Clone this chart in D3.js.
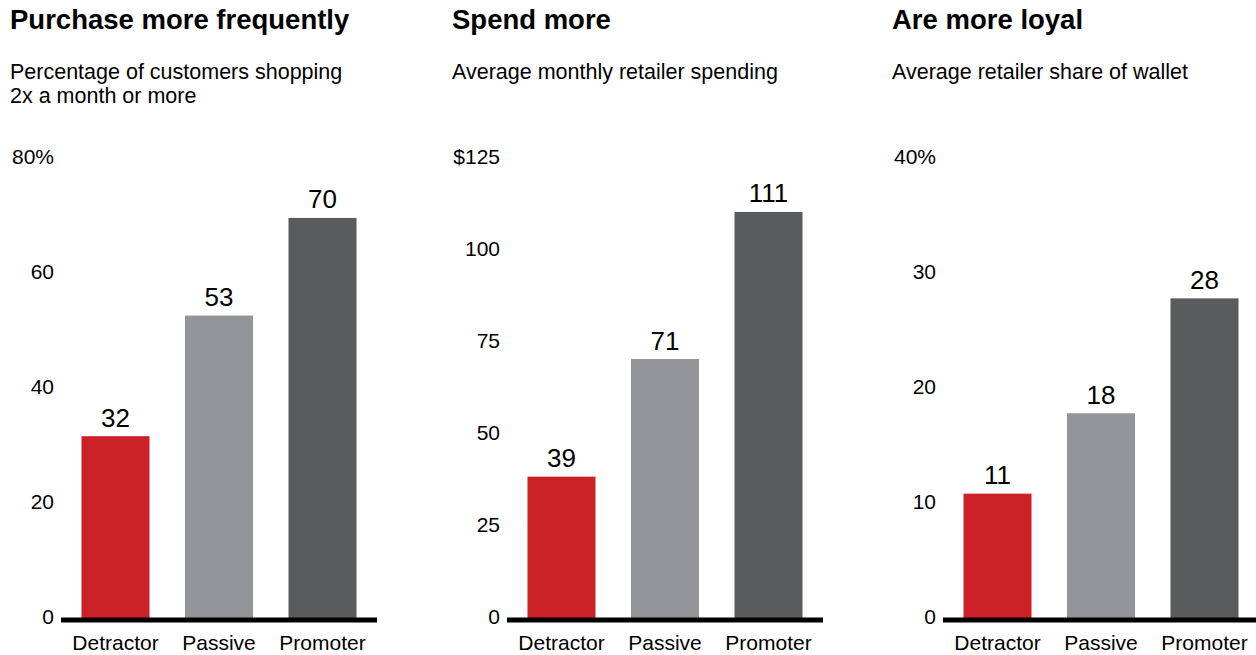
<!DOCTYPE html>
<html>
<head>
<meta charset="utf-8">
<script src="https://cdn.jsdelivr.net/npm/d3@7"></script>
<style>
  html, body { margin: 0; padding: 0; background: #fff; }
  svg { display: block; font-family: "Liberation Sans", Arial, Helvetica, sans-serif; }
</style>
</head>
<body>
<svg id="chart" width="1256" height="655"></svg>
<script>
// Customer segments shown in every panel
const categories = ["Detractor", "Passive", "Promoter"];
const segmentColors = ["#cd2128", "#939598", "#5a5b5d"];

// Panel 1: purchase frequency
const frequencyTitle = "Purchase more frequently";
const frequencySubtitle = ["Percentage of customers shopping", "2x a month or more"];
const frequencyValues = [32, 53, 70];
const frequencyTicks = [0, 20, 40, 60, 80];
const frequencyTickLabels = ["0", "20", "40", "60", "80%"];

// Panel 2: monthly spending
const spendingTitle = "Spend more";
const spendingSubtitle = ["Average monthly retailer spending"];
const spendingValues = [39, 71, 111];
const spendingTicks = [0, 25, 50, 75, 100, 125];
const spendingTickLabels = ["0", "25", "50", "75", "100", "$125"];

// Panel 3: share of wallet
const walletTitle = "Are more loyal";
const walletSubtitle = ["Average retailer share of wallet"];
const walletValues = [11, 18, 28];
const walletTicks = [0, 10, 20, 30, 40];
const walletTickLabels = ["0", "10", "20", "30", "40%"];

const panels = [
  { title: frequencyTitle, subtitle: frequencySubtitle, values: frequencyValues,
    ticks: frequencyTicks, tickLabels: frequencyTickLabels, left: 10, axisStart: 61 },
  { title: spendingTitle, subtitle: spendingSubtitle, values: spendingValues,
    ticks: spendingTicks, tickLabels: spendingTickLabels, left: 452, axisStart: 507 },
  { title: walletTitle, subtitle: walletSubtitle, values: walletValues,
    ticks: walletTicks, tickLabels: walletTickLabels, left: 892, axisStart: 943 }
];

const svg = d3.select("#chart");
const baseY = 620, topY = 160.5, axisLength = 316;

panels.forEach(p => {
  const g = svg.append("g");

  const x = d3.scaleBand()
    .domain(categories)
    .range([p.axisStart, p.axisStart + axisLength])
    .paddingInner(0.343)
    .paddingOuter(0.198);

  const y = d3.scaleLinear()
    .domain([0, d3.max(p.ticks)])
    .range([baseY, topY]);

  // Title and subtitle
  g.append("text")
    .attr("x", p.left).attr("y", 29)
    .attr("font-size", 27.5).attr("font-weight", "bold").attr("fill", "#000")
    .text(p.title);

  g.selectAll("text.sub").data(p.subtitle).join("text")
    .attr("class", "sub")
    .attr("x", p.left).attr("y", (d, i) => 79 + i * 24)
    .attr("font-size", 21.5).attr("fill", "#000")
    .text(d => d);

  // Value axis: labels only
  const axis = d3.axisLeft(y)
    .tickValues(p.ticks)
    .tickSize(0)
    .tickPadding(0)
    .tickFormat((d, i) => p.tickLabels[i]);

  const axisG = g.append("g")
    .attr("transform", `translate(${p.axisStart - 7},0)`)
    .call(axis);
  axisG.select(".domain").remove();
  axisG.selectAll("text")
    .attr("font-family", "inherit")
    .attr("font-size", 21)
    .attr("fill", "#000")
    .attr("dy", "0.15em");

  // Bars
  g.selectAll("rect.bar").data(p.values).join("rect")
    .attr("class", "bar")
    .attr("x", (d, i) => x(categories[i]))
    .attr("width", x.bandwidth())
    .attr("y", d => y(d))
    .attr("height", d => y(0) - y(d))
    .attr("fill", (d, i) => segmentColors[i]);

  // Value labels above bars
  g.selectAll("text.val").data(p.values).join("text")
    .attr("class", "val")
    .attr("x", (d, i) => x(categories[i]) + x.bandwidth() / 2)
    .attr("y", d => y(d) - 9.5)
    .attr("text-anchor", "middle")
    .attr("font-size", 26)
    .attr("fill", "#000")
    .text(d => d);

  // Category axis
  const catAxis = d3.axisBottom(x).tickSize(0).tickPadding(0);
  const catG = g.append("g")
    .attr("transform", `translate(0,${baseY})`)
    .call(catAxis);
  catG.select(".domain").remove();
  catG.selectAll("text")
    .attr("font-family", "inherit")
    .attr("font-size", 21)
    .attr("fill", "#000")
    .attr("dy", 0)
    .attr("y", 30);

  // Heavy baseline
  g.append("line")
    .attr("x1", p.axisStart).attr("x2", p.axisStart + axisLength)
    .attr("y1", y(0)).attr("y2", y(0))
    .attr("stroke", "#000").attr("stroke-width", 5);
});
</script>
</body>
</html>
